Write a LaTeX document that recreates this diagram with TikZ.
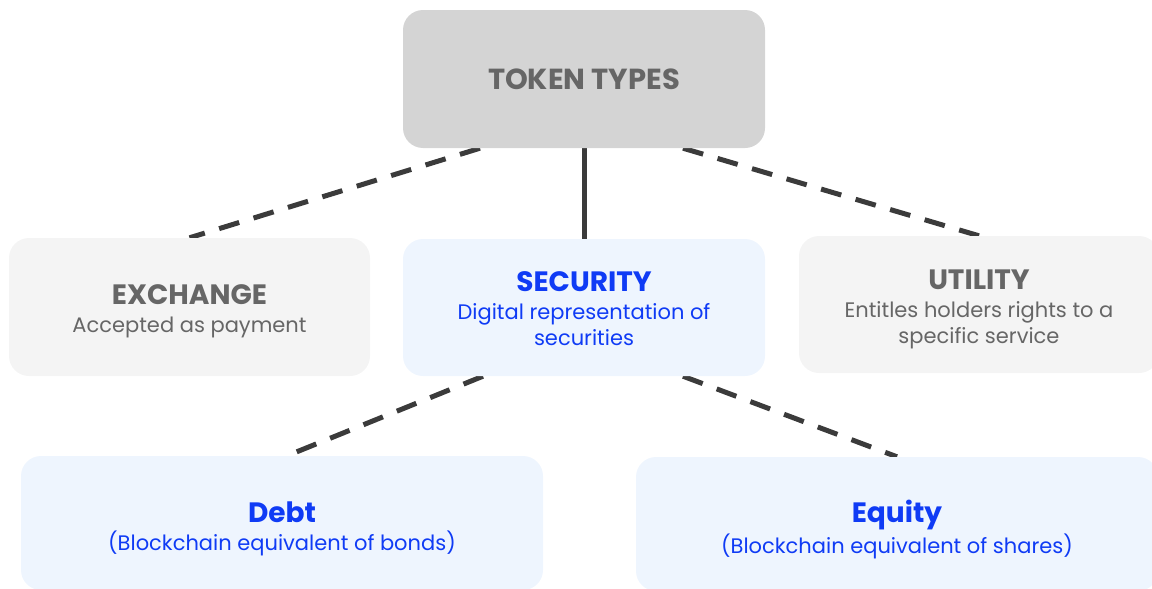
\documentclass[tikz,border=0pt]{standalone}
\usepackage{fontspec}
\setmainfont{Poppins}
\usetikzlibrary{calc,backgrounds}
\definecolor{tokfill}{HTML}{D4D4D4}
\definecolor{grayfill}{HTML}{F4F4F4}
\definecolor{bluefill}{HTML}{EEF5FE}
\definecolor{graytext}{HTML}{666666}
\definecolor{bluetext}{HTML}{0F3BF5}
\definecolor{linecol}{HTML}{3B3B3B}
\newcommand{\ttlx}[1]{{\fontsize{28}{30}\selectfont\bfseries #1}}
\newcommand{\subx}{\fontsize{21}{26}\selectfont}
\tikzset{
  box/.style={rectangle, rounded corners=20pt, inner sep=0pt},
  graybox/.style={box, fill=grayfill},
  bluebox/.style={box, fill=bluefill},
  txt/.style={inner sep=0pt, align=center, font=\subx},
  graytxt/.style={txt, text=graytext},
  bluetxt/.style={txt, text=bluetext},
  conn/.style={draw=linecol, line width=5pt},
  dconn/.style={conn, dash pattern=on 21pt off 15pt},
}
\begin{document}
\begin{tikzpicture}[x=1pt,y=-1pt]
\useasboundingbox (0,0) rectangle (1152,589);
\clip (0,0) rectangle (1152,589);
% boxes
\node[box, fill=tokfill, minimum width=362pt, minimum height=138pt] (token) at (584,79) {};
\node[graybox, minimum width=361pt, minimum height=138pt] (exch) at (189.5,307) {};
\node[bluebox, minimum width=362pt, minimum height=137pt] (sec) at (584,307.5) {};
\node[graybox, minimum width=360pt, minimum height=137pt] (util) at (979,304.5) {};
\node[bluebox, minimum width=522pt, minimum height=134pt] (debt) at (282,523) {};
\node[bluebox, minimum width=522pt, minimum height=134pt] (equity) at (897,524) {};
% texts
\node[graytxt] (tokenT) at (token.center) {{\fontsize{29}{30}\selectfont\bfseries TOKEN TYPES}};
\node[graytxt] (exchT) at ($(exch.center)+(0,4)$) {\ttlx{EXCHANGE}\\[2pt]Accepted as payment};
\node[bluetxt] (secT) at ($(sec.center)+(0,1.5)$) {\ttlx{SECURITY}\\[2pt]Digital representation of\\securities};
\node[graytxt] (utilT) at ($(util.center)+(0,4.5)$) {\ttlx{UTILITY}\\[2pt]Entitles holders rights to a\\specific service};
\node[bluetxt] (debtT) at ($(debt.center)+(0,5.5)$) {\ttlx{Debt}\\[2pt](Blockchain equivalent of bonds)};
\node[bluetxt] (equityT) at ($(equity.center)+(0,5.5)$) {\ttlx{Equity}\\[2pt](Blockchain equivalent of shares)};
% connectors
\begin{scope}[on background layer]
\draw[conn] (token.south) -- (sec.north);
\draw[dconn] ($(token.south)+(-104,0)$) -- (exch.north);
\draw[dconn] ($(token.south)+(99,0)$) -- (util.north);
\draw[dconn] ($(sec.south)+(-101,0)$) -- ($(debt.north)+(5,0)$);
\draw[dconn] ($(sec.south)+(99,0)$) -- (equity.north);
\end{scope}
\end{tikzpicture}
\end{document}
